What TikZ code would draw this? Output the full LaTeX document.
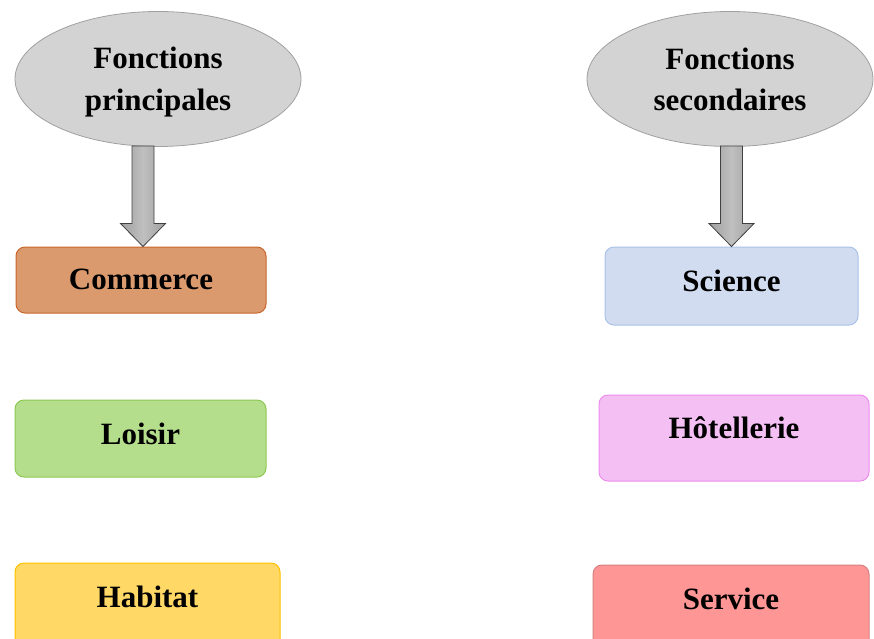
\documentclass[tikz,border=0pt]{standalone}
\usepackage{fontspec}
\setmainfont{Liberation Serif}
\usetikzlibrary{calc,shapes.geometric}
\definecolor{commfill}{HTML}{DB9A6E}
\definecolor{commline}{HTML}{C8662B}
\definecolor{scifill}{HTML}{D1DCF1}
\definecolor{sciline}{HTML}{A9C1E8}
\definecolor{loifill}{HTML}{B4DE8C}
\definecolor{loiline}{HTML}{8DC852}
\definecolor{habfill}{HTML}{FFD866}
\definecolor{habline}{HTML}{FFC000}
\definecolor{hotfill}{HTML}{F4C0F4}
\definecolor{hotline}{HTML}{EE8CEE}
\definecolor{serfill}{HTML}{FF9696}
\definecolor{serline}{HTML}{D88080}
\definecolor{ellfill}{HTML}{D3D3D3}
\definecolor{ellline}{HTML}{A0A0A0}
\begin{document}
\begin{tikzpicture}[x=1pt,y=-1pt,
  txt/.style={font=\bfseries\fontsize{31}{42}\selectfont, text=black},
  ell/.style={ellipse, draw=ellline, fill=ellfill, line width=0.8pt, inner sep=0pt,
    minimum width=286pt, minimum height=135pt, align=center, txt},
  fbox/.style={rectangle, rounded corners=9pt, line width=1pt, inner sep=0pt, txt},
  bigarrow/.style={draw=black!75, line width=0.8pt, left color=gray!75, right color=gray!75, middle color=gray!50, shading angle=90}
]
\useasboundingbox (0,0) rectangle (874,638);
\clip (0,0) rectangle (874,638);

% ellipses
\node[ell] (e1) at (158,79) {\rule{0pt}{27pt}Fonctions\\principales};
\node[ell] (e2) at (730,79) {Fonctions\\[-1pt]secondaires};

% boxes
\node[fbox, fill=commfill, draw=commline, minimum width=250pt, minimum height=66pt] (cm) at (141,280) {\raisebox{1pt}{Commerce}};
\node[fbox, fill=loifill, draw=loiline, minimum width=251pt, minimum height=77pt] (lo) at (140.5,438.5) {\raisebox{9pt}{Loisir}};
\node[fbox, fill=habfill, draw=habline, minimum width=265pt, minimum height=87pt] (ha) at (147.5,606.5) {\raisebox{20pt}{Habitat}};
\node[fbox, fill=scifill, draw=sciline, minimum width=253pt, minimum height=78pt] (sc) at (731.5,286) {\raisebox{11pt}{Science}};
\node[fbox, fill=hotfill, draw=hotline, minimum width=270pt, minimum height=86pt] (ho) at (734,438) {\raisebox{21pt}{Hôtellerie}};
\node[fbox, fill=serfill, draw=serline, minimum width=276pt, minimum height=85pt] (se) at (731,607.5) {\raisebox{17pt}{Service}};

% arrows
\coordinate (a1t) at ($(cm.north |- e1.south)+(2,-1)$);
\coordinate (a1b) at ($(cm.north)+(2,0)$);
\draw[bigarrow] ($(a1t)+(-11,0)$) -- ($(a1t)+(11,0)$) -- ($(a1b)+(11,-23)$) -- ($(a1b)+(22.5,-23)$)
  -- (a1b) -- ($(a1b)+(-22.5,-23)$) -- ($(a1b)+(-11,-23)$) -- cycle;
\coordinate (a2t) at ($(sc.north |- e2.south)+(0,-1)$);
\coordinate (a2b) at ($(sc.north)+(0,0)$);
\draw[bigarrow] ($(a2t)+(-11,0)$) -- ($(a2t)+(11,0)$) -- ($(a2b)+(11,-23)$) -- ($(a2b)+(22.5,-23)$)
  -- (a2b) -- ($(a2b)+(-22.5,-23)$) -- ($(a2b)+(-11,-23)$) -- cycle;
\end{tikzpicture}
\end{document}
